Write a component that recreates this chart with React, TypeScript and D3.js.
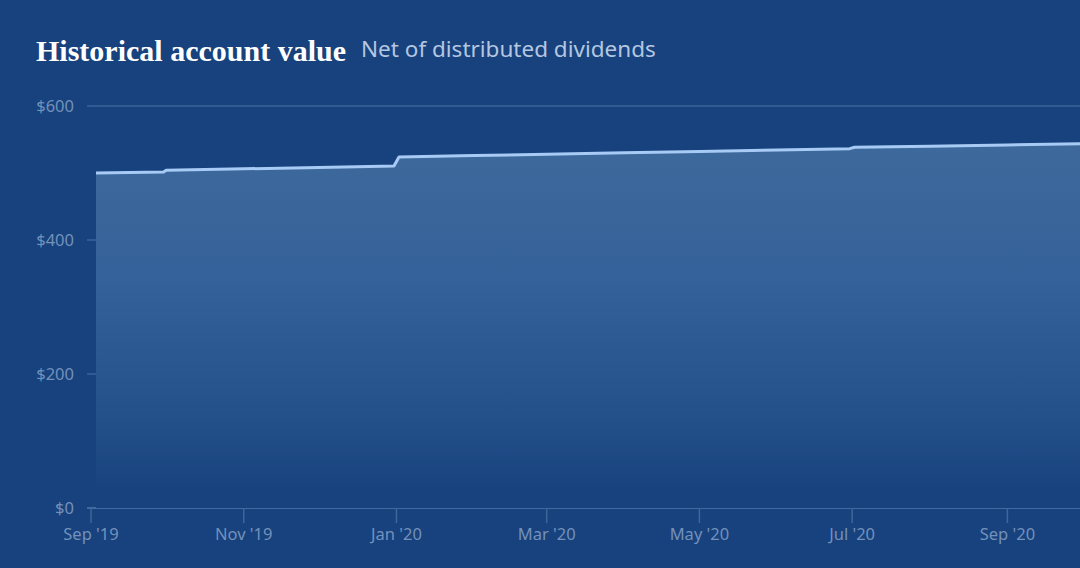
import React from "react";
import * as d3 from "d3";

// Account value series (date, dollars)
const dates: string[] = [
  "2019-09-03", "2019-09-30", "2019-10-01", "2019-11-01", "2019-12-01", "2019-12-31",
  "2020-01-02", "2020-02-01", "2020-03-01", "2020-04-01", "2020-05-01", "2020-06-01",
  "2020-06-30", "2020-07-02", "2020-08-01", "2020-09-01", "2020-09-30",
];
const values: number[] = [
  500.0, 501.6, 504.0, 506.2, 508.3, 510.4,
  524.0, 526.0, 528.0, 530.1, 532.1, 534.2,
  536.3, 538.4, 540.1, 541.9, 543.7,
];
const yTicks: number[] = [0, 200, 400, 600];
const xTickDates: string[] = ["2019-09-01", "2019-11-01", "2020-01-01", "2020-03-01", "2020-05-01", "2020-07-01", "2020-09-01"];

const W = 1080;
const H = 568;
const BG = "#17427d";

export default function App() {
  const parse = d3.utcParse("%Y-%m-%d");
  const data = dates.map((d, i) => ({ date: parse(d) as Date, value: values[i] }));

  const x = d3.scaleUtc()
    .domain([parse("2019-09-01") as Date, parse("2020-09-30") as Date])
    .range([91, 1080]);
  const y = d3.scaleLinear().domain([0, 600]).range([508, 106]);

  const line = d3.line<{ date: Date; value: number }>()
    .x((d) => x(d.date))
    .y((d) => y(d.value));
  const area = d3.area<{ date: Date; value: number }>()
    .x((d) => x(d.date))
    .y0(y(0))
    .y1((d) => y(d.value));

  const fmtTick = (d: Date) => d3.utcFormat("%b '%y")(d);

  return (
    <svg width={W} height={H} style={{ position: "absolute", left: 0, top: 0, display: "block" }}>
      <defs>
        <linearGradient id="areaFade" gradientUnits="userSpaceOnUse" x1="0" y1={y(545)} x2="0" y2={y(25)}>
          <stop offset="0" stopColor="#3e699c" />
          <stop offset="0.4" stopColor="#35619a" />
          <stop offset="0.8" stopColor="#24508a" />
          <stop offset="1" stopColor={BG} />
        </linearGradient>
      </defs>
      <rect x={0} y={0} width={W} height={H} fill={BG} />

      <text x={36} y={61} fill="#ffffff" fontFamily="'Liberation Serif', serif" fontWeight={700} fontSize={30}>
        Historical account value
      </text>
      <text x={361} y={57} fill="#b4c6e0" fontFamily="'Noto Sans', sans-serif" fontSize={22.5}>
        Net of distributed dividends
      </text>

      {yTicks.map((t) => (
        <g key={t}>
          <line x1={87} x2={W} y1={y(t)} y2={y(t)} stroke={t === 0 ? "#5279ac" : "#3a6398"} strokeWidth={1.5} />
          <text x={74} y={y(t)} dy="0.35em" textAnchor="end" fill="#7391bb" fontFamily="'Noto Sans', sans-serif" fontSize={16.5}>
            {"$" + t}
          </text>
        </g>
      ))}

      <path d={area(data) || ""} fill="url(#areaFade)" />
      <path d={line(data) || ""} fill="none" stroke="#a8cbf5" strokeWidth={3} strokeLinejoin="round" />

      {xTickDates.map((s) => {
        const d = parse(s) as Date;
        const px = x(d);
        return (
          <g key={s}>
            <line x1={px} x2={px} y1={y(0)} y2={y(0) + 15} stroke="#3f6699" strokeWidth={1.5} />
            <text x={px} y={540} textAnchor="middle" fill="#7391bb" fontFamily="'Noto Sans', sans-serif" fontSize={16.5}>
              {fmtTick(d)}
            </text>
          </g>
        );
      })}
    </svg>
  );
}
